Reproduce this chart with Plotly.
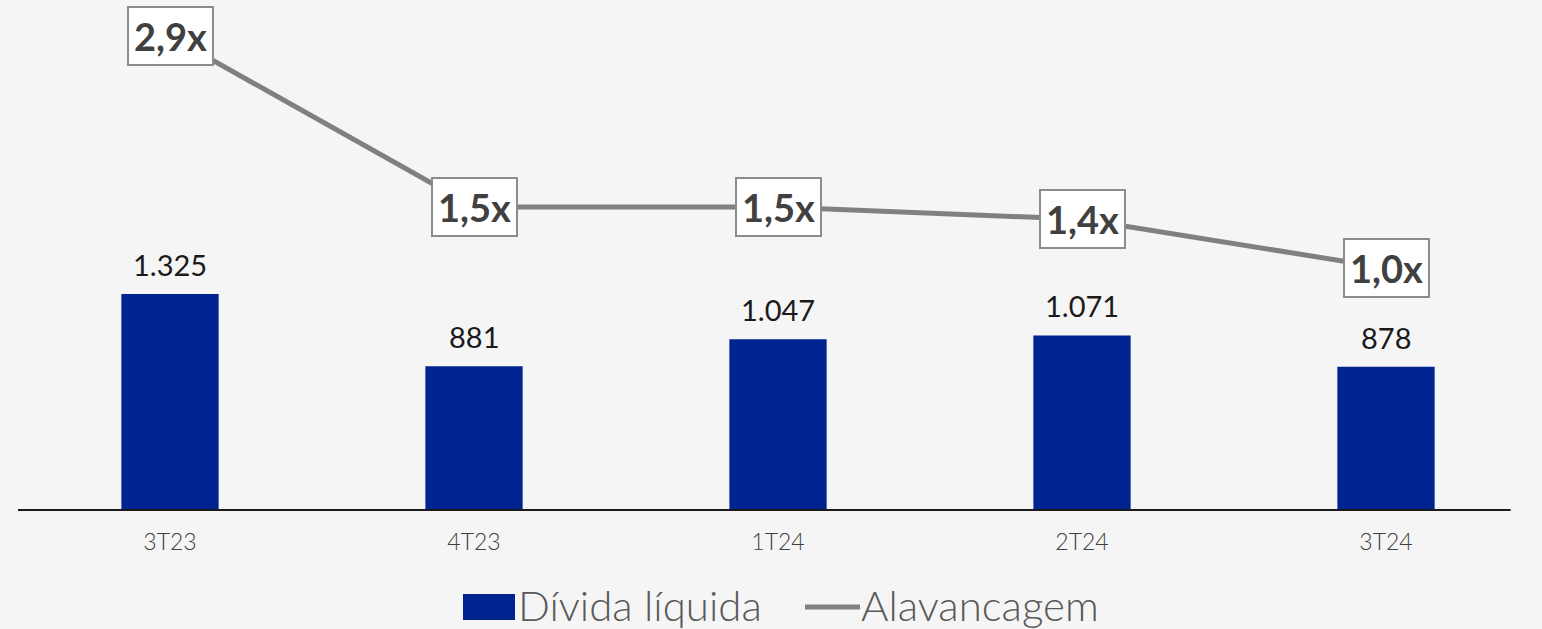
import plotly.graph_objects as go

categories = ["3T23", "4T23", "1T24", "2T24", "3T24"]
divida_liquida = [1325, 881, 1047, 1071, 878]
divida_labels = ["1.325", "881", "1.047", "1.071", "878"]
alavancagem = [2.9, 1.5, 1.5, 1.4, 1.0]
alav_labels = ["2,9x", "1,5x", "1,5x", "1,4x", "1,0x"]

BLUE = "#00238F"
GREY = "#808080"
BG = "#F5F5F5"
FONT = "Lato"

fig = go.Figure()
fig.add_trace(go.Bar(
    x=categories, y=divida_liquida, name="Dívida líquida",
    marker=dict(color=BLUE, line=dict(width=0)), width=0.32,
    showlegend=False,
))
fig.add_trace(go.Scatter(
    x=categories, y=alavancagem, name="Alavancagem", yaxis="y2",
    mode="lines", line=dict(color=GREY, width=5), showlegend=False,
))

for c, v, t in zip(categories, divida_liquida, divida_labels):
    fig.add_annotation(
        x=c, y=v, xref="x", yref="y", text=t, showarrow=False,
        yanchor="bottom", yshift=10,
        font=dict(family=FONT, size=29, color="#1a1a1a"),
    )

for c, v, t in zip(categories, alavancagem, alav_labels):
    fig.add_annotation(
        x=c, y=v, xref="x", yref="y2", text="<b>%s</b>" % t, showarrow=False,
        font=dict(family=FONT, size=38, color="#404040"),
        bgcolor="white", bordercolor="#8c8c8c", borderwidth=2, borderpad=5,
    )

# x-axis baseline
fig.add_shape(type="line", xref="paper", yref="paper", x0=0, x1=0.982, y0=0, y1=0,
              line=dict(color="#1a1a1a", width=2))

# custom legend
fig.add_shape(type="rect", xref="paper", yref="paper",
              x0=(463 - 18) / 1520, x1=(515 - 18) / 1520,
              y0=-(620 - 510) / 510, y1=-(594 - 510) / 510,
              fillcolor=BLUE, line=dict(width=0))
fig.add_annotation(xref="paper", yref="paper", x=(516 - 18) / 1520, y=-(605 - 510) / 510,
                   xanchor="left", yanchor="middle", showarrow=False, text="Dívida líquida",
                   font=dict(family=FONT, size=42, color="#595959", weight=300))
fig.add_shape(type="line", xref="paper", yref="paper",
              x0=(805 - 18) / 1520, x1=(860 - 18) / 1520,
              y0=-(607 - 510) / 510, y1=-(607 - 510) / 510,
              line=dict(color=GREY, width=5))
fig.add_annotation(xref="paper", yref="paper", x=(859 - 18) / 1520, y=-(605 - 510) / 510,
                   xanchor="left", yanchor="middle", showarrow=False, text="Alavancagem",
                   font=dict(family=FONT, size=42, color="#595959", weight=300))

fig.update_layout(
    width=1542, height=629,
    margin=dict(l=18, r=4, t=0, b=119),
    paper_bgcolor=BG, plot_bgcolor=BG,
    showlegend=False,
    xaxis=dict(range=[-0.5, 4.5], showgrid=False, showline=False, ticks="",
               ticklabelstandoff=16,
               tickfont=dict(family=FONT, size=23, color="#404040", weight=300)),
    yaxis=dict(range=[0, 3128], visible=False, showgrid=False),
    yaxis2=dict(range=[-0.984, 3.197], overlaying="y", visible=False, showgrid=False),
)

fig.write_html("out.html", config={"displayModeBar": False},
               post_script="document.body.style.margin='0';document.body.style.overflow='hidden';")
